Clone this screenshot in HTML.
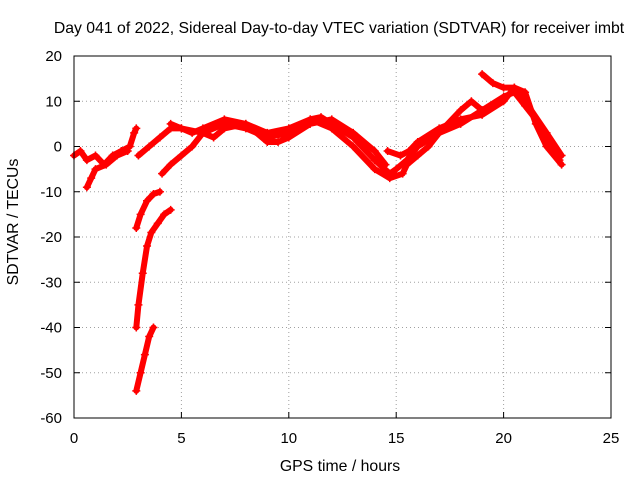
<!DOCTYPE html>
<html><head><meta charset="utf-8">
<style>
body{margin:0;background:#fff;width:640px;height:480px;overflow:hidden}
svg{font-family:"Liberation Sans",sans-serif;font-size:13px}
.big{font-size:15.8px}
</style></head>
<body>
<svg id="chart" width="640" height="480" viewBox="0 0 640 480">
<text class="big" x="339" y="33" text-anchor="middle">Day 041 of 2022, Sidereal Day-to-day VTEC variation (SDTVAR) for receiver imbt</text>
<text class="big" x="340" y="471" text-anchor="middle">GPS time / hours</text>
<text class="big" transform="translate(18,222) rotate(-90)" text-anchor="middle">SDTVAR / TECUs</text>
<g id="grid"></g><g id="ticks"></g><g id="series"></g>
<rect x="74" y="56" width="537" height="362" fill="none" stroke="#000"/>
</svg>
<script>
const xTicks=[0,5,10,15,20,25];
const yTicks=[20,10,0,-10,-20,-30,-40,-50,-60];
const track1=[[0,-2],[0.3,-1],[0.6,-3],[1,-2],[1.4,-4],[1.8,-2],[2.2,-1],[2.6,0],[2.8,3],[2.9,4]];
const track2=[[0.6,-9],[0.8,-7],[1,-5],[1.5,-4],[2,-2],[2.5,-1]];
const track3=[[2.9,-18],[3.1,-15],[3.4,-12],[3.7,-10.5],[4,-10]];
const track4=[[2.9,-40],[3.0,-35],[3.2,-28],[3.4,-22],[3.6,-19],[3.9,-17],[4.2,-15],[4.5,-14]];
const track5=[[2.9,-54],[3.1,-50],[3.3,-46],[3.5,-42],[3.7,-40]];
const track6=[[3,-2],[3.5,0],[4,2],[4.5,4],[5,4],[6,3],[7,5],[8,4],[9,2],[10,3],[11,6],[11.5,6.5],[12,5],[13,2],[14,-3],[14.7,-6],[15,-5],[15.5,-3],[16,0],[17,3],[18,5],[19,8],[20,11],[20.5,12],[21,9],[21.5,6],[22,2],[22.6,-3]];
const track7=[[4.1,-6],[4.5,-4],[5,-2],[5.5,0],[6,3],[6.5,2],[7,4],[8,5],[9,3],[10,4],[11,6],[12,4],[13,0],[14,-5],[14.7,-7],[15.3,-6],[15.5,-4],[16,-2],[16.5,0],[17,3],[18,8],[18.5,10],[19,8]];
const track8=[[14.6,-1],[15.2,-2],[15.6,-1],[16,1],[17,4],[18,6],[19,7],[20,10],[20.5,13],[21,12],[21.5,5],[22,0],[22.7,-4]];
const track9=[[19,16],[19.5,14],[20,13],[20.5,13],[21,10],[22,3],[22.7,-2]];
const track10=[[4.5,5],[5,4],[5.5,3],[6,4],[7,6],[8,5],[9,1],[9.5,1],[10,2],[11,5],[12,6],[13,3],[14,-1],[14.5,-4]];
const tracks=[track1,track2,track3,track4,track5,track6,track7,track8,track9,track10];
const NS="http://www.w3.org/2000/svg";
const X=v=>74+v*(537/25);
const Y=v=>56+(20-v)*(362/80);
function mk(t,a){const e=document.createElementNS(NS,t);for(const k in a)e.setAttribute(k,a[k]);return e;}
const grid=document.getElementById('grid'),ticks=document.getElementById('ticks'),ser=document.getElementById('series');
xTicks.forEach(v=>{
  if(v>0&&v<25){const l=mk('line',{x1:X(v),x2:X(v),y1:56,y2:418,stroke:'#a0a0a0','stroke-dasharray':'1,3'});
  
  
  grid.appendChild(l);}
  const t=mk('text',{x:X(v),y:443,'text-anchor':'middle','font-size':'15px'});t.textContent=v;
  
  
  ticks.appendChild(t);
  ticks.appendChild(mk('line',{x1:X(v),x2:X(v),y1:418,y2:412,stroke:'#000'}));
  ticks.appendChild(mk('line',{x1:X(v),x2:X(v),y1:56,y2:62,stroke:'#000'}));
});
yTicks.forEach(v=>{
  if(v<20&&v>-60){const l=mk('line',{x1:74,x2:611,y1:Y(v),y2:Y(v),stroke:'#a0a0a0','stroke-dasharray':'1,3'});
  
  
  grid.appendChild(l);}
  const t=mk('text',{x:62,y:Y(v)+5,'text-anchor':'end','font-size':'15px'});t.textContent=v;
  
  
  ticks.appendChild(t);
  ticks.appendChild(mk('line',{x1:74,x2:80,y1:Y(v),y2:Y(v),stroke:'#000'}));
  ticks.appendChild(mk('line',{x1:605,x2:611,y1:Y(v),y2:Y(v),stroke:'#000'}));
});
tracks.forEach((tr,i)=>{
  const p=mk('polyline',{points:tr.map(d=>X(d[0])+','+Y(d[1])).join(' '),fill:'none',stroke:'#f00','stroke-width':6,'stroke-linejoin':'round','stroke-linecap':'round'});
  
  
  ser.appendChild(p);
  tr.forEach(d=>{
    const m=mk('path',{d:`M${X(d[0])-4},${Y(d[1])}h8M${X(d[0])},${Y(d[1])-4}v8`,stroke:'#f00','stroke-width':1.5});
    
    
    ser.appendChild(m);
  });
});
</script>
</body></html>
